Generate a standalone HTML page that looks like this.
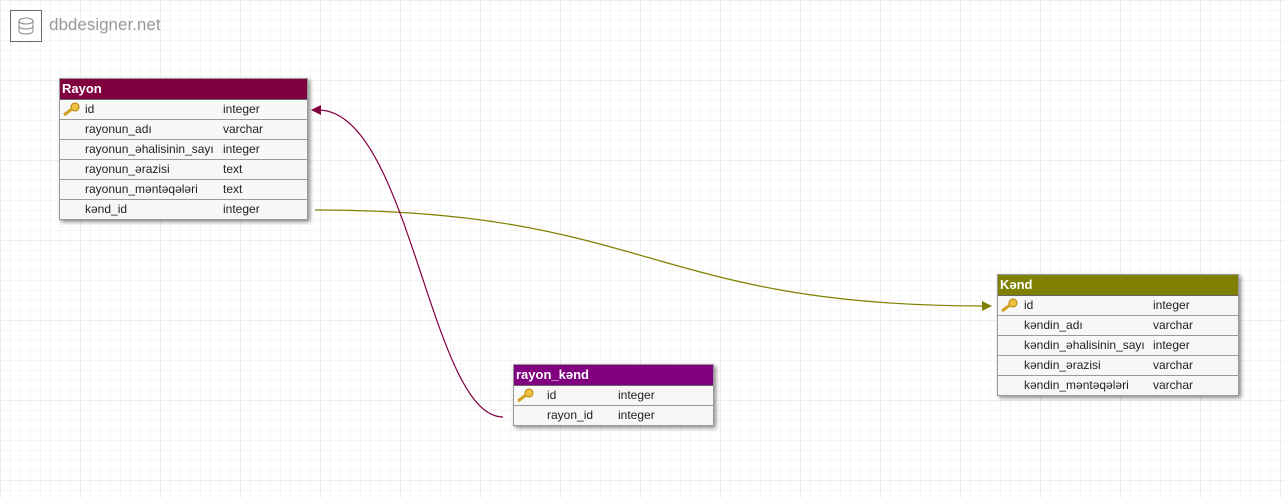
<!DOCTYPE html>
<html><head><meta charset="utf-8"><style>
body{margin:0;width:1285px;height:498px;overflow:hidden;background:#fff;font-family:"Liberation Sans",Arial,sans-serif;position:relative}
.grid{position:absolute;left:0;top:0}
.tbl{position:absolute;background:#f7f7f7;box-shadow:2px 2px 4px rgba(0,0,0,.45);border:1px solid #999;font-size:12px;color:#222}
.hd{height:20px;line-height:19px;color:#fff;font-weight:bold;font-size:13px;padding-left:2px;border-bottom:1px solid #666}
.row{position:relative;height:19px;line-height:19px;border-bottom:1px solid #999}
.row:last-child{border-bottom:none}
.row span{position:absolute;top:0}
.key{position:absolute;left:2px;top:2px;width:18px;height:15px}
</style></head><body>
<svg class="grid" width="1285" height="498">
<defs>
<pattern id="g" width="10" height="10" patternUnits="userSpaceOnUse" x="0.5" y="0.5"><path d="M10 0V10H0" fill="none" stroke="#ebebeb" stroke-width="1"/></pattern>
<pattern id="G" width="80" height="80" patternUnits="userSpaceOnUse" x="0.5" y="0.5"><path d="M80 0V80H0" fill="none" stroke="#dcdcdc" stroke-width="1"/></pattern>
</defs>
<rect width="1285" height="498" fill="url(#g)"/>
<rect width="1285" height="498" fill="url(#G)"/>
<path d="M315 210 C650 210 650 306 985 306" fill="none" stroke="#808000" stroke-width="1.2"/>
<polygon points="992,306 982,301 982,311" fill="#808000"/>
<path d="M503 417 C430 417 410 110 318 110" fill="none" stroke="#800040" stroke-width="1.2"/>
<polygon points="311,110 321,105 321,115" fill="#800040"/>
</svg>
<div style="position:absolute;left:10px;top:10px;width:30px;height:30px;border:1px solid #666;background:#fff">
<svg width="30" height="30"><ellipse cx="15" cy="10" rx="7" ry="3" fill="none" stroke="#888"/><path d="M8 10v10c0 4 14 4 14 0V10M8 15c0 4 14 4 14 0" fill="none" stroke="#888"/></svg></div>
<div style="position:absolute;left:49px;top:15px;font-size:17px;color:#999">dbdesigner.net</div>

<div class="tbl" style="left:59px;top:78px;width:247px">
<div class="hd" style="background:#800040">Rayon</div>
<div class="row"><svg class="key" viewBox="0 0 18 15"><circle cx="13" cy="5" r="4" fill="#f0c040" stroke="#b08000"/><path d="M10 7L2 13" stroke="#d0a020" stroke-width="3"/></svg><span style="left:25px">id</span><span style="left:163px">integer</span></div>
<div class="row"><span style="left:25px">rayonun_adı</span><span style="left:163px">varchar</span></div>
<div class="row"><span style="left:25px">rayonun_əhalisinin_sayı</span><span style="left:163px">integer</span></div>
<div class="row"><span style="left:25px">rayonun_ərazisi</span><span style="left:163px">text</span></div>
<div class="row"><span style="left:25px">rayonun_məntəqələri</span><span style="left:163px">text</span></div>
<div class="row"><span style="left:25px">kənd_id</span><span style="left:163px">integer</span></div>
</div>

<div class="tbl" style="left:997px;top:274px;width:240px">
<div class="hd" style="background:#808000">Kənd</div>
<div class="row"><svg class="key" viewBox="0 0 18 15"><circle cx="13" cy="5" r="4" fill="#f0c040" stroke="#b08000"/><path d="M10 7L2 13" stroke="#d0a020" stroke-width="3"/></svg><span style="left:26px">id</span><span style="left:155px">integer</span></div>
<div class="row"><span style="left:26px">kəndin_adı</span><span style="left:155px">varchar</span></div>
<div class="row"><span style="left:26px">kəndin_əhalisinin_sayı</span><span style="left:155px">integer</span></div>
<div class="row"><span style="left:26px">kəndin_ərazisi</span><span style="left:155px">varchar</span></div>
<div class="row"><span style="left:26px">kəndin_məntəqələri</span><span style="left:155px">varchar</span></div>
</div>

<div class="tbl" style="left:513px;top:364px;width:199px">
<div class="hd" style="background:#800080">rayon_kənd</div>
<div class="row"><svg class="key" viewBox="0 0 18 15"><circle cx="13" cy="5" r="4" fill="#f0c040" stroke="#b08000"/><path d="M10 7L2 13" stroke="#d0a020" stroke-width="3"/></svg><span style="left:33px">id</span><span style="left:104px">integer</span></div>
<div class="row"><span style="left:33px">rayon_id</span><span style="left:104px">integer</span></div>
</div>
</body></html>
